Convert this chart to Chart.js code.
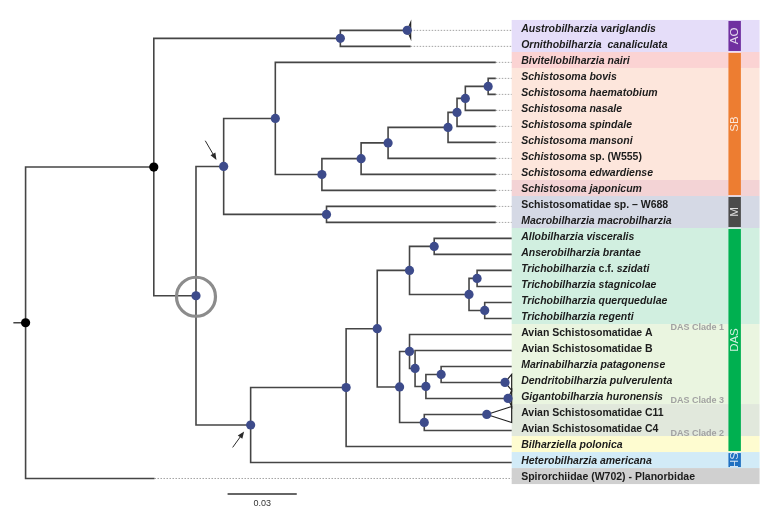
<!DOCTYPE html>
<html>
<head>
<meta charset="utf-8">
<script src="https://cdn.jsdelivr.net/npm/chart.js@4.4.0/dist/chart.umd.min.js"></script>
<style>
  html, body { margin: 0; padding: 0; background: #fff; }
  canvas { display: block; }
</style>
</head>
<body>
<canvas id="tree" width="781" height="521"></canvas>
<script>
// tips, top to bottom. text between _ _ is italic
const tipNames = [
  "_Austrobilharzia variglandis_",
  "_Ornithobilharzia  canaliculata_",
  "_Bivitellobilharzia nairi_",
  "_Schistosoma bovis_",
  "_Schistosoma haematobium_",
  "_Schistosoma nasale_",
  "_Schistosoma spindale_",
  "_Schistosoma mansoni_",
  "_Schistosoma_ sp. (W555)",
  "_Schistosoma edwardiense_",
  "_Schistosoma japonicum_",
  "Schistosomatidae sp. \u2013 W688",
  "_Macrobilharzia macrobilharzia_",
  "_Allobilharzia visceralis_",
  "_Anserobilharzia brantae_",
  "_Trichobilharzia_ c.f. _szidati_",
  "_Trichobilharzia stagnicolae_",
  "_Trichobilharzia querquedulae_",
  "_Trichobilharzia regenti_",
  "Avian Schistosomatidae A",
  "Avian Schistosomatidae B",
  "_Marinabilharzia patagonense_",
  "_Dendritobilharzia pulverulenta_",
  "_Gigantobilharzia huronensis_",
  "Avian Schistosomatidae C11",
  "Avian Schistosomatidae C4",
  "_Bilharziella polonica_",
  "_Heterobilharzia americana_",
  "Spirorchiidae (W702) - Planorbidae"
];
// distance from root (subs/site) where each tip branch ends
const tipDepth = [
  0.1670, 0.1670,
  0.2039, 0.2039, 0.2039, 0.2039, 0.2039, 0.2039, 0.2039, 0.2039, 0.2039,
  0.2039, 0.2039,
  0.2108, 0.2108, 0.2108, 0.2108, 0.2108, 0.2108, 0.2108, 0.2108, 0.2108,
  0.2108, 0.2108, 0.2108, 0.2108, 0.2108, 0.2108,
  0.0559
];
// collapsed clades (drawn as triangles)
const collapsedTips = [0, 22, 23, 24];
const collapsedDepth = [0.1655, 0.2079, 0.2092, 0.2000];

// internal nodes: key, depth, children (numbers = tips)
const nodeKeys = ["root", "A", "AO", "B", "C", "E", "F", "G", "H", "I", "J", "K", "L", "M",
  "D", "N", "O", "P", "R", "S", "T", "U", "Q", "V", "X", "Y", "Z", "W"];
const nodeDepth = [0, 0.0556, 0.1365, 0.0739, 0.0859, 0.1083, 0.1285, 0.1455, 0.1572, 0.1832,
  0.1871, 0.1907, 0.2006, 0.1305, 0.0976, 0.1390, 0.1525, 0.1665, 0.1772, 0.1923, 0.1958,
  0.1991, 0.1622, 0.1665, 0.1689, 0.1736, 0.1802, 0.1729];
const nodeKids = [["A", 28], ["AO", "B"], [0, 1], ["C", "D"], ["E", "M"], [2, "F"], ["G", 10],
  ["H", 9], ["I", 8], ["J", 7], ["K", 6], ["L", 5], [3, 4], [11, 12], ["N", 27], ["O", 26],
  ["P", "Q"], ["R", "S"], [13, 14], ["T", "U"], [15, 16], [17, 18], ["V", "W"], [19, "X"],
  [20, "Y"], ["Z", 23], [21, 22], [24, 25]];
const blackNodes = ["root", "A"];

const bandTips = [[0, 1], [2, 2], [3, 9], [10, 10], [11, 12], [13, 18], [19, 23], [24, 25], [26, 26], [27, 27], [28, 28]];
const bandColors = ["#e5ddf9", "#fbd3d3", "#fde6dc", "#f3d3d5", "#d5d9e5", "#d1efe0", "#eaf5e0", "#e1e8dc", "#fefcd0", "#d2ebf7", "#d0d0d0"];
const groupNames = ["AO", "SB", "M", "DAS", "HS"];
const groupTips = [[0, 1], [2, 10], [11, 12], [13, 26], [27, 27]];
const groupColors = ["#7030a0", "#ed7d31", "#4b4b4b", "#00b050", "#1f70c1"];
const cladeNames = ["DAS Clade 1", "DAS Clade 3", "DAS Clade 2"];
const cladeLabelRow = [18.55, 23.1, 25.2];
const scaleBar = 0.03;

const nodeY = {};
function yOf(k) {
  if (typeof k === "number") return k;
  if (nodeY[k] !== undefined) return nodeY[k];
  const ys = nodeKids[nodeKeys.indexOf(k)].map(yOf);
  nodeY[k] = (ys[0] + ys[ys.length - 1]) / 2;
  return nodeY[k];
}
function xOf(k) {
  if (typeof k === "number") {
    const c = collapsedTips.indexOf(k);
    return c >= 0 ? collapsedDepth[c] : tipDepth[k];
  }
  return nodeDepth[nodeKeys.indexOf(k)];
}

const lineColor = "#454545";
const datasets = [];
function seg(points, color, width, dash) {
  datasets.push({
    data: points, showLine: true, borderColor: color, borderWidth: width,
    borderDash: dash || [], pointRadius: 0, pointHoverRadius: 0, fill: false, order: 2
  });
}

// elbow branches
nodeKeys.forEach((k, i) => {
  const px = nodeDepth[i], py = yOf(k);
  nodeKids[i].forEach(kid => {
    const ky = yOf(kid);
    seg([{ x: px, y: py }, { x: px, y: ky }, { x: xOf(kid), y: ky }], lineColor, 1.6);
  });
});
// root stub
seg([{ x: -0.0053, y: yOf("root") }, { x: 0, y: yOf("root") }], lineColor, 1.6);

// collapsed triangles
collapsedTips.forEach((t, c) => {
  const a = { x: collapsedDepth[c], y: t };
  seg([a, { x: tipDepth[t], y: t - 0.5 }, { x: tipDepth[t], y: t + 0.5 }, a], "#222", 1.2);
});

// dotted leaders to the label column
const tipEnd = Math.max(...tipDepth);
tipDepth.forEach((d, t) => {
  if (d < tipEnd) seg([{ x: d, y: t }, { x: tipEnd, y: t }], "#a3a3a3", 1, [1.5, 1.5]);
});

// scale bar
const barX = 0.0876, barRow = 28.97;
seg([{ x: barX, y: barRow }, { x: barX + scaleBar, y: barRow }], "#333", 1.4);

// node dots
const blueDots = [], blackDots = [];
nodeKeys.forEach((k, i) => {
  const p = { x: nodeDepth[i], y: yOf(k) };
  (blackNodes.includes(k) ? blackDots : blueDots).push(p);
});
collapsedTips.forEach((t, c) => blueDots.push({ x: collapsedDepth[c], y: t }));
datasets.push({ data: blueDots, pointRadius: 4.6, pointHoverRadius: 4.6, pointBackgroundColor: "#3d4b8b", pointBorderWidth: 0, order: 0 });
datasets.push({ data: blackDots, pointRadius: 4.6, pointHoverRadius: 4.6, pointBackgroundColor: "#000", pointBorderWidth: 0, order: 0 });

const FONT = '"Liberation Sans", Arial, sans-serif';

const decor = {
  id: "decor",
  beforeDatasetsDraw(chart) {
    const { ctx, scales: { x, y } } = chart;
    const left = x.getPixelForValue(tipEnd), right = x.getPixelForValue(0.3183);
    ctx.save();
    bandTips.forEach(([a, b], i) => {
      const top = y.getPixelForValue(a - 0.65), bot = y.getPixelForValue(b + 0.35);
      ctx.fillStyle = bandColors[i];
      ctx.fillRect(left, top, right - left, bot - top);
    });
    ctx.restore();
  },
  afterDatasetsDraw(chart) {
    const { ctx, scales: { x, y } } = chart;
    ctx.save();
    // tip labels
    const tx = x.getPixelForValue(0.2149);
    ctx.textBaseline = "middle";
    ctx.fillStyle = "#1c1c1c";
    tipNames.forEach((name, t) => {
      let cx = tx;
      const ty = y.getPixelForValue(t) - 1;
      name.split("_").forEach((part, j) => {
        if (!part) return;
        ctx.font = (j % 2 ? "italic " : "") + "bold 10.5px " + FONT;
        ctx.fillText(part, cx, ty);
        cx += ctx.measureText(part).width;
      });
    });
    // group bars
    const gx0 = x.getPixelForValue(0.3048), gx1 = x.getPixelForValue(0.3102);
    groupTips.forEach(([a, b], i) => {
      const top = y.getPixelForValue(a - 0.65) + 1, bot = y.getPixelForValue(b + 0.35) - 1;
      ctx.fillStyle = groupColors[i];
      ctx.fillRect(gx0, top, gx1 - gx0, bot - top);
      ctx.save();
      ctx.translate((gx0 + gx1) / 2, (top + bot) / 2);
      ctx.rotate(-Math.PI / 2);
      ctx.font = "11.5px " + FONT;
      ctx.fillStyle = "rgba(255,255,255,0.82)";
      ctx.textAlign = "center";
      ctx.textBaseline = "middle";
      ctx.fillText(groupNames[i], 0, 0.5);
      ctx.restore();
    });
    // DAS sub-clade labels
    ctx.font = "bold 9px " + FONT;
    ctx.fillStyle = "#a2a2a2";
    ctx.textAlign = "right";
    cladeNames.forEach((n, i) => ctx.fillText(n, x.getPixelForValue(0.3029), y.getPixelForValue(cladeLabelRow[i])));
    // scale label
    ctx.font = "9px " + FONT;
    ctx.fillStyle = "#333";
    ctx.textAlign = "center";
    ctx.fillText(String(scaleBar), x.getPixelForValue(barX + scaleBar / 2), y.getPixelForValue(barRow) + 10);
    // highlighted node
    const bx = x.getPixelForValue(xOf("B")), by = y.getPixelForValue(yOf("B"));
    ctx.beginPath();
    ctx.arc(bx, by + 1, 19.5, 0, Math.PI * 2);
    ctx.strokeStyle = "#8c8c8c";
    ctx.lineWidth = 3.2;
    ctx.stroke();
    // arrows toward nodes C and D
    const arrow = (nx, ny, dx0, dy0, dx1, dy1) => {
      const x0 = nx + dx0, y0 = ny + dy0, x1 = nx + dx1, y1 = ny + dy1;
      const ang = Math.atan2(y1 - y0, x1 - x0);
      ctx.strokeStyle = "#2a2a2a";
      ctx.fillStyle = "#2a2a2a";
      ctx.lineWidth = 1;
      ctx.beginPath();
      ctx.moveTo(x0, y0);
      ctx.lineTo(x1 - 4 * Math.cos(ang), y1 - 4 * Math.sin(ang));
      ctx.stroke();
      ctx.beginPath();
      ctx.moveTo(x1, y1);
      ctx.lineTo(x1 - 7 * Math.cos(ang) + 2.8 * Math.sin(ang), y1 - 7 * Math.sin(ang) - 2.8 * Math.cos(ang));
      ctx.lineTo(x1 - 7 * Math.cos(ang) - 2.8 * Math.sin(ang), y1 - 7 * Math.sin(ang) + 2.8 * Math.cos(ang));
      ctx.closePath();
      ctx.fill();
    };
    const cX = x.getPixelForValue(xOf("C")), cY = y.getPixelForValue(yOf("C"));
    arrow(cX, cY, -18.4, -25.7, -7.2, -6.5);
    const dX = x.getPixelForValue(xOf("D")), dY = y.getPixelForValue(yOf("D"));
    arrow(dX, dY, -18, 22.4, -6.5, 6.5);
    ctx.restore();
  }
};

new Chart(document.getElementById("tree"), {
  type: "scatter",
  data: { datasets },
  options: {
    responsive: false,
    animation: false,
    events: [],
    layout: { padding: 0 },
    plugins: { legend: { display: false }, tooltip: { enabled: false } },
    scales: {
      x: { type: "linear", display: false, min: -0.0091, max: 0.3256 },
      y: { type: "linear", display: false, reverse: true, min: -1.61, max: 30.37 }
    }
  },
  plugins: [decor]
});
</script>
</body>
</html>
